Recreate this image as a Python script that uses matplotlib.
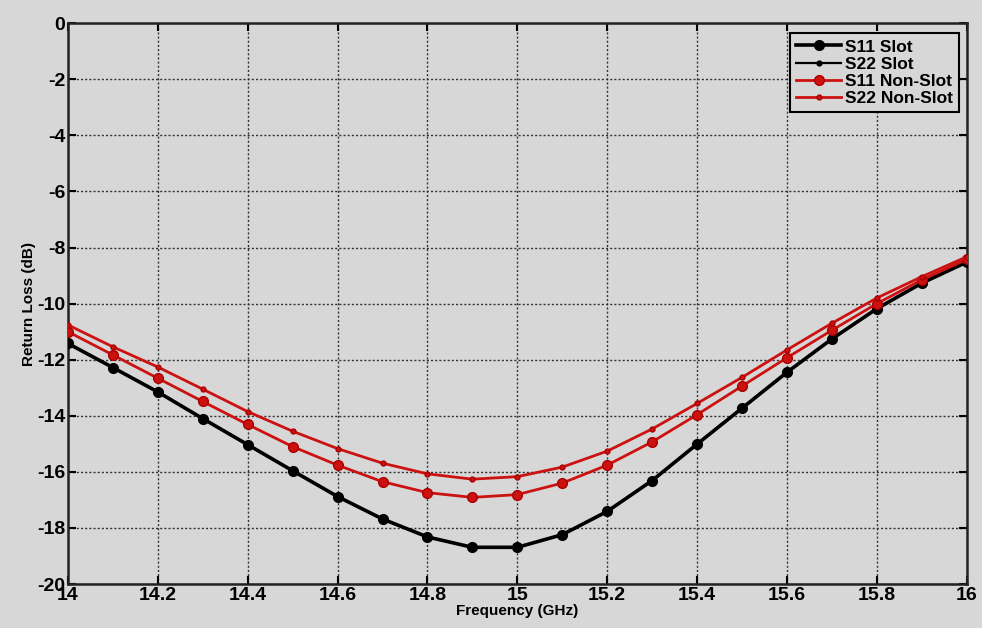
import numpy as np
import matplotlib.pyplot as plt

# frequency points (GHz)
freq = [14.0, 14.1, 14.2, 14.3, 14.4, 14.5, 14.6, 14.7, 14.8, 14.9, 15.0,
        15.1, 15.2, 15.3, 15.4, 15.5, 15.6, 15.7, 15.8, 15.9, 16.0]

# return loss (dB)
s11_slot = [-11.42, -12.28, -13.15, -14.1, -15.03, -15.96, -16.88, -17.68, -18.32, -18.69, -18.69,
            -18.24, -17.41, -16.31, -15.01, -13.73, -12.45, -11.26, -10.18, -9.27, -8.52]
s22_slot = s11_slot[:]   # sits right on top of S11 slot
s11_nonslot = [-11.0, -11.83, -12.66, -13.49, -14.31, -15.1, -15.76, -16.35, -16.74, -16.91, -16.81,
               -16.4, -15.76, -14.93, -13.96, -12.94, -11.93, -10.95, -10.0, -9.15, -8.42]
s22_nonslot = [-10.76, -11.54, -12.26, -13.05, -13.85, -14.55, -15.17, -15.69, -16.07, -16.26, -16.17,
               -15.83, -15.26, -14.47, -13.56, -12.63, -11.65, -10.7, -9.8, -9.04, -8.33]

xticks = [14, 14.2, 14.4, 14.6, 14.8, 15, 15.2, 15.4, 15.6, 15.8, 16]
xtick_labels = ['14', '14.2', '14.4', '14.6', '14.8', '15', '15.2', '15.4', '15.6', '15.8', '16']
yticks = list(range(-20, 1, 2))

plt.rcParams['font.family'] = ['Liberation Sans', 'DejaVu Sans']
plt.rcParams['font.weight'] = 'bold'
plt.rcParams['axes.unicode_minus'] = False

bg = '#d7d7d7'
red = '#cc1111'

fig = plt.figure(figsize=(9.82, 6.28), dpi=100, facecolor=bg)
ax = fig.add_axes([0.0692, 0.070, 0.9152, 0.893])
ax.set_facecolor(bg)

ax.plot(freq, s11_slot, color='black', lw=2.6, marker='o', ms=7, label='S11 Slot', zorder=3)
ax.plot(freq, s22_slot, color='black', lw=1.6, marker='o', ms=3.5, label='S22 Slot', zorder=3)
ax.plot(freq, s11_nonslot, color=red, lw=2.0, marker='o', ms=7, mec='#aa0000', label='S11 Non-Slot', zorder=3)
ax.plot(freq, s22_nonslot, color=red, lw=2.0, marker='o', ms=3.5, mec='#aa0000', label='S22 Non-Slot', zorder=3)

ax.set_xlim(14, 16)
ax.set_ylim(-20, 0)
ax.set_xticks(xticks)
ax.set_xticklabels(xtick_labels)
ax.set_yticks(yticks)
ax.tick_params(direction='in', top=True, right=True, length=6, width=1.5,
               labelsize=14, pad=2)
for lbl in ax.get_xticklabels() + ax.get_yticklabels():
    lbl.set_fontweight('bold')

ax.grid(True, color='#333333', linestyle=(0, (1.5, 1.5)), linewidth=1.0)
for sp in ax.spines.values():
    sp.set_linewidth(1.8)
    sp.set_color('#222222')

ax.set_xlabel('Frequency (GHz)', fontsize=11, fontweight='bold', labelpad=0)
ax.set_ylabel('Return Loss (dB)', fontsize=11, fontweight='bold', labelpad=1)

leg = ax.legend(loc='upper right', bbox_to_anchor=(0.992, 0.982), fontsize=12.5,
                frameon=True, fancybox=False, edgecolor='black', facecolor=bg,
                framealpha=1, handlelength=2.6, handletextpad=0.25,
                borderpad=0.35, labelspacing=0.12, borderaxespad=0)
leg.get_frame().set_linewidth(1.5)
for t in leg.get_texts():
    t.set_fontweight('bold')

fig.savefig('out.png', dpi=100, facecolor=bg)
